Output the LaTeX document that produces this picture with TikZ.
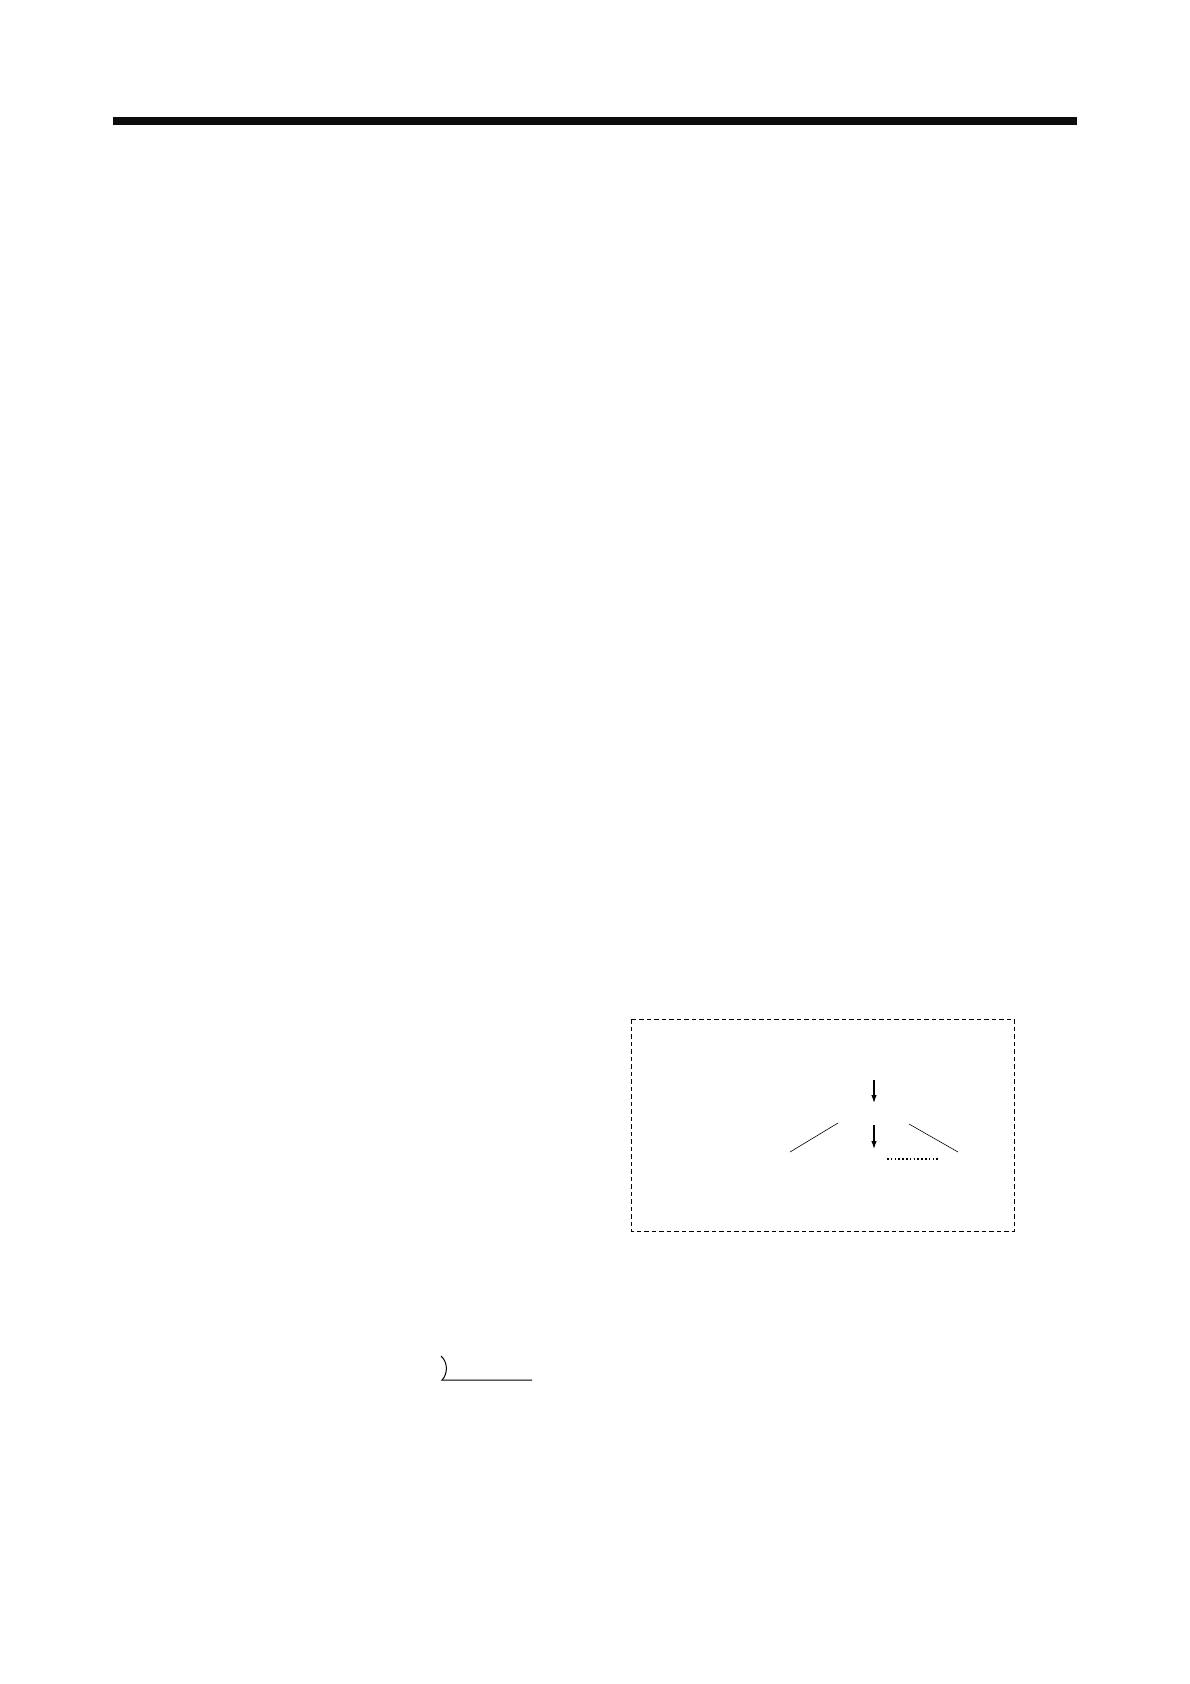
\documentclass[tikz,border=0pt]{standalone}
\usetikzlibrary{arrows.meta}

\tikzset{
  frame/.style={line width=1pt, dash pattern=on 4.5pt off 3pt},
  flow/.style={line width=1.1pt, -{Latex[length=8pt,width=5.5pt]}},
  branch/.style={line width=0.6pt},
  gap/.style={line width=1.6pt, dash pattern=on 1.6pt off 2.2pt}
}

\begin{document}
\begin{tikzpicture}[x=1pt, y=-1pt]
        \useasboundingbox (0,0) rectangle (1190,1684);

        % header rule
        \fill [black!95] (113,117) rectangle (1077,125);

        % dashed frame
        \draw [frame] (631,1019) rectangle (1014,1231);

        \coordinate (top1) at (874,1080);
        \coordinate (bot1) at (874,1103);
        \coordinate (top2) at (874,1125);
        \coordinate (bot2) at (874,1149);
        \draw [flow] (top1) -- (bot1);
        \draw [flow] (top2) -- (bot2);

        \coordinate (lefta) at (790,1152);
        \coordinate (leftb) at (838,1123);
        \coordinate (righta) at (909,1124);
        \coordinate (rightb) at (958,1152);
        \draw [branch] (lefta) -- (leftb);
        \draw [branch] (righta) -- (rightb);

        \coordinate (dota) at (887,1159);
        \coordinate (dotb) at (940,1159);
        \draw [gap] (dota) -- (dotb);

        % bracket and underline
        \coordinate (arca) at (441,1356);
        \coordinate (arcb) at (442,1380);
        \coordinate (lineb) at (532,1380);
        \draw [line width=1pt] (arca) .. controls (448,1362) and (448,1374) .. (arcb) -- (lineb);
\end{tikzpicture}
\end{document}
